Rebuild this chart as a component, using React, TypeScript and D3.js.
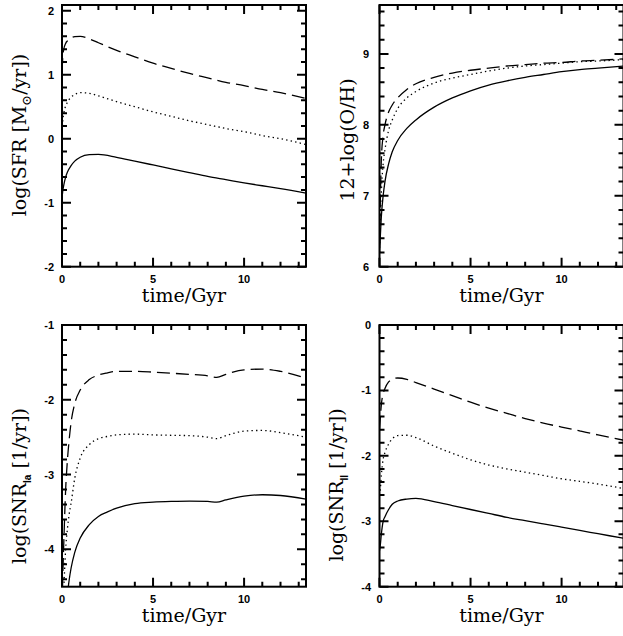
import React from 'react';
import * as d3 from 'd3';

// ---------- data ----------
const T_SFR = [0, 0.05, 0.1, 0.2, 0.3, 0.5, 0.7, 1, 1.5, 2, 3, 4, 5, 6, 7, 8, 9, 10, 11, 12, 13.4];
const SFR_SOLID = [-0.93, -0.8, -0.72, -0.6, -0.52, -0.42, -0.35, -0.29, -0.25, -0.245, -0.29, -0.35, -0.41, -0.47, -0.53, -0.59, -0.64, -0.69, -0.735, -0.78, -0.85];
const SFR_DASHED = [1.05, 1.3, 1.4, 1.49, 1.53, 1.575, 1.595, 1.6, 1.56, 1.5, 1.38, 1.28, 1.18, 1.1, 1.02, 0.95, 0.88, 0.83, 0.77, 0.72, 0.63];
const SFR_DOTTED = [0.05, 0.3, 0.4, 0.51, 0.57, 0.65, 0.69, 0.72, 0.71, 0.67, 0.58, 0.5, 0.42, 0.35, 0.28, 0.22, 0.16, 0.11, 0.05, 0.0, -0.09];

const T_OH = [0, 0.05, 0.1, 0.2, 0.3, 0.5, 0.7, 1, 1.5, 2, 3, 4, 5, 6, 7, 8, 9, 10, 11, 12, 13.4];
const OH_SOLID = [6.2, 6.45, 6.7, 7.0, 7.2, 7.45, 7.62, 7.78, 7.95, 8.07, 8.25, 8.38, 8.48, 8.56, 8.62, 8.67, 8.71, 8.75, 8.78, 8.8, 8.83];
const OH_DASHED = [6.3, 7.0, 7.5, 7.85, 8.0, 8.18, 8.28, 8.38, 8.5, 8.58, 8.67, 8.73, 8.77, 8.8, 8.83, 8.85, 8.87, 8.88, 8.9, 8.91, 8.93];
const OH_DOTTED = [6.2, 6.7, 7.05, 7.45, 7.65, 7.92, 8.07, 8.23, 8.38, 8.47, 8.59, 8.66, 8.71, 8.76, 8.8, 8.83, 8.85, 8.87, 8.89, 8.9, 8.92];

const T_IA = [0, 0.05, 0.1, 0.2, 0.3, 0.4, 0.5, 0.7, 1, 1.5, 2, 2.5, 3, 4, 5, 6, 7, 8, 8.5, 9, 10, 11, 12, 13.4];
const IA_SOLID = [-6, -5.6, -5.3, -4.9, -4.6, -4.4, -4.25, -4.04, -3.85, -3.67, -3.56, -3.5, -3.45, -3.39, -3.37, -3.36, -3.355, -3.36, -3.37, -3.34, -3.29, -3.27, -3.28, -3.33];
const IA_DASHED = [-4.8, -4.3, -3.9, -3.2, -2.8, -2.52, -2.3, -2.05, -1.87, -1.73, -1.67, -1.64, -1.62, -1.62, -1.63, -1.645, -1.66, -1.68, -1.7, -1.66, -1.6, -1.59, -1.62, -1.71];
const IA_DOTTED = [-5.0, -4.75, -4.5, -4.0, -3.72, -3.52, -3.38, -3.05, -2.78, -2.6, -2.52, -2.49, -2.47, -2.46, -2.47, -2.475, -2.48, -2.5, -2.52, -2.48, -2.42, -2.41, -2.44, -2.5];

const T_II = [0, 0.05, 0.1, 0.2, 0.3, 0.5, 0.7, 1, 1.5, 2, 3, 4, 5, 6, 7, 8, 9, 10, 11, 12, 13.4];
const II_SOLID = [-3.45, -3.35, -3.2, -3.0, -2.93, -2.82, -2.74, -2.69, -2.66, -2.65, -2.7, -2.76, -2.82, -2.88, -2.94, -2.99, -3.04, -3.09, -3.14, -3.19, -3.26];
const II_DASHED = [-1.6, -1.4, -1.22, -1.05, -0.97, -0.87, -0.83, -0.81, -0.83, -0.88, -0.98, -1.08, -1.18, -1.27, -1.35, -1.43, -1.5, -1.56, -1.62, -1.68, -1.76];
const II_DOTTED = [-2.6, -2.5, -2.3, -2.05, -1.95, -1.82, -1.74, -1.69, -1.685, -1.72, -1.85, -1.96, -2.06, -2.14, -2.2, -2.25, -2.3, -2.35, -2.39, -2.43, -2.5];

const X_DOMAIN = [0, 13.4];
const X_MAJOR = [0, 5, 10];
const X_LABELS = ['0', '5', '10'];
const SFR_MAJOR = [-2, -1, 0, 1, 2];
const OH_MAJOR = [6, 7, 8, 9];
const IA_MAJOR = [-4, -3, -2, -1];
const II_MAJOR = [-4, -3, -2, -1, 0];

// ---------- drawing ----------
const W = 623;
const H = 636;
const SERIF = "'DejaVu Serif', serif";
const SANS = "'Liberation Sans', Arial, sans-serif";

type S = { t: number[]; v: number[]; kind: 'solid' | 'dashed' | 'dotted' };

const dashOf = (k: string) => (k === 'dashed' ? '13,6' : k === 'dotted' ? '1.4,3.2' : undefined);

function Panel(props: {
  id: string;
  left: number; right: number; top: number; bottom: number;
  yDomain: [number, number];
  yMajor: number[];
  series: S[];
  yLabel: React.ReactNode;
  yLabelX: number; yLabelY: number;
  tickLabelRight: number;
}) {
  const { id, left, right, top, bottom, yDomain, yMajor, series, yLabel, yLabelX, yLabelY, tickLabelRight } = props;
  const x = d3.scaleLinear().domain(X_DOMAIN).range([left, right]);
  const y = d3.scaleLinear().domain(yDomain).range([bottom, top]);
  const xMinor = d3.range(1, 14, 1).filter((v) => !X_MAJOR.includes(v));
  const yMinor = d3.range(Math.ceil(yDomain[0] * 5 - 1e-6), Math.floor(yDomain[1] * 5 + 1e-6) + 1)
    .map((k) => k / 5)
    .filter((v) => Math.abs(v - Math.round(v)) > 1e-6);
  const line = d3.line<[number, number]>().x((d) => x(d[0])).y((d) => y(d[1])).curve(d3.curveMonotoneX);
  const MAJ = 9, MIN = 5;
  const p = d3.path();
  X_MAJOR.forEach((v) => {
    p.moveTo(x(v), bottom); p.lineTo(x(v), bottom - MAJ);
    p.moveTo(x(v), top); p.lineTo(x(v), top + MAJ);
  });
  xMinor.forEach((v) => {
    p.moveTo(x(v), bottom); p.lineTo(x(v), bottom - MIN);
    p.moveTo(x(v), top); p.lineTo(x(v), top + MIN);
  });
  yMajor.forEach((v) => {
    p.moveTo(left, y(v)); p.lineTo(left + MAJ, y(v));
    p.moveTo(right, y(v)); p.lineTo(right - MAJ, y(v));
  });
  yMinor.forEach((v) => {
    p.moveTo(left, y(v)); p.lineTo(left + MIN, y(v));
    p.moveTo(right, y(v)); p.lineTo(right - MIN, y(v));
  });
  return (
    <g>
      <defs>
        <clipPath id={id}>
          <rect x={left} y={top} width={right - left} height={bottom - top} />
        </clipPath>
      </defs>
      <g clipPath={`url(#${id})`}>
        {series.map((s, i) => (
          <path
            key={i}
            d={line(s.t.map((t, j) => [t, s.v[j]] as [number, number])) || ''}
            fill="none"
            stroke="#000"
            strokeWidth={1.3}
            strokeDasharray={dashOf(s.kind)}
          />
        ))}
      </g>
      <path d={p.toString()} fill="none" stroke="#000" strokeWidth={2} />
      <rect x={left} y={top} width={right - left} height={bottom - top} fill="none" stroke="#000" strokeWidth={2} />
      {X_MAJOR.map((v, i) => (
        <text key={'xl' + v} x={x(v)} y={bottom + 16} textAnchor="middle" fontFamily={SANS} fontWeight="bold" fontSize={11}>
          {X_LABELS[i]}
        </text>
      ))}
      {yMajor.map((v) => (
        <text key={'yl' + v} x={tickLabelRight} y={y(v) + 4} textAnchor="end" fontFamily={SANS} fontWeight="bold" fontSize={11}>
          {String(v)}
        </text>
      ))}
      <text x={(left + right) / 2} y={bottom + 35} textAnchor="middle" fontFamily={SERIF} fontSize={19}>
        time/Gyr
      </text>
      <text transform={`translate(${yLabelX},${yLabelY}) rotate(-90)`} textAnchor="middle" fontFamily={SERIF} fontSize={19}>
        {yLabel}
      </text>
    </g>
  );
}

export default function App() {
  const L = [62, 306];
  const R = [379.5, 623.5];
  const TOP = [5, 266.7];
  const BOT = [325, 586.7];
  return (
    <svg width={W} height={H} style={{ position: 'absolute', left: 0, top: 0, background: '#fff' }}>
      <rect width={W} height={H} fill="#fff" />
      <Panel
        id="c1" left={L[0]} right={L[1]} top={TOP[0]} bottom={TOP[1]}
        yDomain={[-2, 2.09]} yMajor={SFR_MAJOR}
        series={[
          { t: T_SFR, v: SFR_SOLID, kind: 'solid' },
          { t: T_SFR, v: SFR_DASHED, kind: 'dashed' },
          { t: T_SFR, v: SFR_DOTTED, kind: 'dotted' },
        ]}
        yLabel={<>log(SFR [M<tspan dy={5} fontSize={13}>⊙</tspan><tspan dy={-5}>/yr])</tspan></>}
        yLabelX={26} yLabelY={135} tickLabelRight={54}
      />
      <Panel
        id="c2" left={R[0]} right={R[1]} top={TOP[0]} bottom={TOP[1]}
        yDomain={[6, 9.69]} yMajor={OH_MAJOR}
        series={[
          { t: T_OH, v: OH_SOLID, kind: 'solid' },
          { t: T_OH, v: OH_DASHED, kind: 'dashed' },
          { t: T_OH, v: OH_DOTTED, kind: 'dotted' },
        ]}
        yLabel={<>12+log(O/H)</>}
        yLabelX={354} yLabelY={140} tickLabelRight={369}
      />
      <Panel
        id="c3" left={L[0]} right={L[1]} top={BOT[0]} bottom={BOT[1]}
        yDomain={[-4.5, -1]} yMajor={IA_MAJOR}
        series={[
          { t: T_IA, v: IA_SOLID, kind: 'solid' },
          { t: T_IA, v: IA_DASHED, kind: 'dashed' },
          { t: T_IA, v: IA_DOTTED, kind: 'dotted' },
        ]}
        yLabel={<>log(SNR<tspan dy={5} fontSize={10} fontFamily={SANS} fontWeight="bold">Ia</tspan><tspan dy={-5}> [1/yr])</tspan></>}
        yLabelX={26} yLabelY={486} tickLabelRight={54}
      />
      <Panel
        id="c4" left={R[0]} right={R[1]} top={BOT[0]} bottom={BOT[1]}
        yDomain={[-4, 0]} yMajor={II_MAJOR}
        series={[
          { t: T_II, v: II_SOLID, kind: 'solid' },
          { t: T_II, v: II_DASHED, kind: 'dashed' },
          { t: T_II, v: II_DOTTED, kind: 'dotted' },
        ]}
        yLabel={<>log(SNR<tspan dy={5} fontSize={10} fontFamily={SANS} fontWeight="bold">II</tspan><tspan dy={-5}> [1/yr])</tspan></>}
        yLabelX={343} yLabelY={485} tickLabelRight={371}
      />
    </svg>
  );
}
